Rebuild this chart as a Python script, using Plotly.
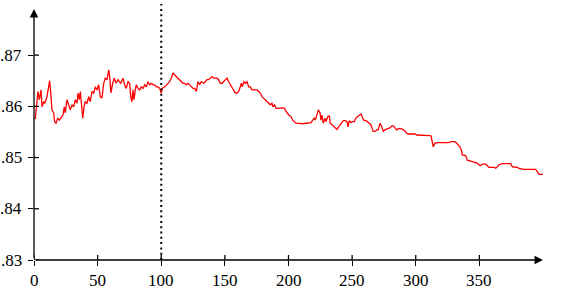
import plotly.graph_objects as go

# ---- data ----
x_vals = [
    1, 2.4, 3.1, 4.2, 5.5, 6.3, 7.6, 8.5, 10.2, 11.5, 12.3, 13.4, 14.1, 15.5, 16.2, 17.3, 18.6, 19.9,
    21.5, 22.8, 23.8, 24.6, 25.9, 27.2, 28.5, 29.9, 31.2, 32.5, 33.8, 34.6, 35.6, 36.4, 37.7, 38.3,
    39.3, 40.3, 41.6, 43.0, 44.2, 45.6, 46.9, 48.2, 49.5, 50.8, 52.1, 53.4, 54.8, 56.0, 57.4, 58.7,
    59.5, 60.5, 61.8, 63.1, 64.4, 66.0, 68.1, 69.9, 71.2, 72.5, 73.9, 75.2, 76.0, 77.0, 77.8, 78.6,
    79.6, 80.4, 81.7, 83.0, 84.3, 85.7, 87.0, 88.3, 89.6, 90.9, 92.2, 93.5, 94.8, 96.1, 97.4, 98.8,
    100.0, 100.8, 102.7, 104.0, 105.3, 106.6, 107.9, 109.2, 110.6, 111.8, 113.2, 114.5, 115.8, 117.1,
    118.4, 119.7, 121.0, 122.4, 123.6, 125.0, 126.3, 127.5, 128.9, 130.2, 131.5, 133.3, 134.6, 136.0,
    137.3, 138.5, 139.9, 141.2, 142.5, 143.8, 145.1, 146.4, 147.7, 149.1, 150.3, 151.7, 153.0, 154.3,
    155.6, 156.9, 158.2, 159.5, 160.9, 162.1, 162.9, 163.7, 164.8, 166.1, 167.4, 168.7, 170.0, 171.3,
    172.6, 173.9, 175.3, 176.6, 177.8, 179.2, 180.5, 181.8, 183.1, 184.4, 185.7, 187.0, 187.8, 189.1,
    190.2, 192.3, 194.9, 197.0, 198.0, 199.6, 200.2, 202.0, 203.3, 205.9, 208.5, 211.2, 213.8, 216.3,
    217.7, 219.0, 220.3, 221.1, 222.2, 223.4, 224.8, 225.5, 226.3, 227.3, 228.7, 229.5, 230.8, 232.1,
    232.8, 234.2, 235.5, 236.8, 238.1, 239.4, 240.7, 242.1, 243.1, 244.6, 246.0, 246.8, 247.8, 249.1,
    250.4, 251.7, 253.0, 254.4, 255.6, 257.0, 257.8, 259.1, 260.9, 262.2, 263.5, 264.8, 266.6, 268.0,
    269.3, 270.6, 271.9, 273.2, 274.5, 275.8, 277.2, 278.4, 279.8, 281.1, 282.4, 283.8, 285.0, 286.3,
    287.6, 289.0, 290.2, 291.6, 292.9, 294.2, 296.8, 299.4, 300.7, 303.3, 305.9, 308.6, 311.2, 312.0,
    313.0, 313.8, 315.1, 317.7, 321.6, 325.6, 328.2, 330.8, 332.2, 334.7, 335.8, 336.6, 339.2, 340.5,
    343.2, 345.8, 348.4, 350.5, 352.3, 355.0, 356.2, 357.6, 361.5, 362.8, 364.1, 365.4, 368.0, 374.6,
    375.9, 379.8, 381.1, 385.1, 394.3, 395.5, 396.9, 400.0,
]
y_vals = [
    0.8575, 0.8606, 0.8629, 0.8613, 0.8632, 0.8599, 0.8609, 0.8606, 0.8619, 0.8638, 0.8650, 0.8619,
    0.8593, 0.8587, 0.8570, 0.8567, 0.8577, 0.8573, 0.8580, 0.8583, 0.8599, 0.8587, 0.8613, 0.8603,
    0.8593, 0.8603, 0.8599, 0.8613, 0.8606, 0.8626, 0.8613, 0.8629, 0.8599, 0.8577, 0.8599, 0.8609,
    0.8606, 0.8619, 0.8609, 0.8629, 0.8626, 0.8638, 0.8632, 0.8642, 0.8619, 0.8616, 0.8645, 0.8655,
    0.8652, 0.8671, 0.8658, 0.8626, 0.8645, 0.8655, 0.8645, 0.8652, 0.8645, 0.8655, 0.8642, 0.8635,
    0.8648, 0.8645, 0.8619, 0.8609, 0.8632, 0.8613, 0.8632, 0.8642, 0.8635, 0.8632, 0.8638, 0.8635,
    0.8642, 0.8638, 0.8648, 0.8642, 0.8645, 0.8642, 0.8642, 0.8638, 0.8638, 0.8635, 0.8626, 0.8635,
    0.8638, 0.8642, 0.8645, 0.8648, 0.8655, 0.8665, 0.8661, 0.8658, 0.8655, 0.8652, 0.8648, 0.8645,
    0.8645, 0.8642, 0.8645, 0.8642, 0.8638, 0.8635, 0.8635, 0.8629, 0.8648, 0.8642, 0.8648, 0.8645,
    0.8648, 0.8652, 0.8652, 0.8655, 0.8658, 0.8655, 0.8655, 0.8655, 0.8652, 0.8645, 0.8645, 0.8648,
    0.8652, 0.8655, 0.8648, 0.8642, 0.8635, 0.8629, 0.8626, 0.8626, 0.8629, 0.8638, 0.8645, 0.8638,
    0.8648, 0.8645, 0.8648, 0.8638, 0.8638, 0.8632, 0.8632, 0.8632, 0.8632, 0.8629, 0.8626, 0.8619,
    0.8616, 0.8613, 0.8609, 0.8606, 0.8603, 0.8606, 0.8599, 0.8603, 0.8596, 0.8596, 0.8597, 0.8596,
    0.8590, 0.8585, 0.8583, 0.8580, 0.8573, 0.8567, 0.8566, 0.8566, 0.8567, 0.8567, 0.8568, 0.8573,
    0.8577, 0.8573, 0.8583, 0.8593, 0.8587, 0.8573, 0.8583, 0.8567, 0.8577, 0.8570, 0.8580, 0.8581,
    0.8567, 0.8564, 0.8560, 0.8557, 0.8555, 0.8560, 0.8564, 0.8567, 0.8572, 0.8572, 0.8570, 0.8560,
    0.8572, 0.8568, 0.8570, 0.8570, 0.8577, 0.8580, 0.8583, 0.8585, 0.8580, 0.8573, 0.8572, 0.8570,
    0.8567, 0.8564, 0.8551, 0.8551, 0.8554, 0.8554, 0.8567, 0.8561, 0.8551, 0.8554, 0.8556, 0.8557,
    0.8558, 0.8562, 0.8562, 0.8558, 0.8554, 0.8556, 0.8557, 0.8556, 0.8554, 0.8552, 0.8547, 0.8546,
    0.8546, 0.8546, 0.8544, 0.8544, 0.8543, 0.8543, 0.8543, 0.8542, 0.8525, 0.8521, 0.8528, 0.8529,
    0.8529, 0.8529, 0.8531, 0.8531, 0.8528, 0.8521, 0.8515, 0.8505, 0.8504, 0.8495, 0.8493, 0.8491,
    0.8489, 0.8484, 0.8487, 0.8487, 0.8484, 0.8481, 0.8481, 0.8479, 0.8482, 0.8486, 0.8488, 0.8488,
    0.8482, 0.8481, 0.8479, 0.8477, 0.8477, 0.8471, 0.8467, 0.8467,
]
x_ticks = [0, 50, 100, 150, 200, 250, 300, 350]
x_tick_labels = ["0", "50", "100", "150", "200", "250", "300", "350"]
y_ticks = [0.83, 0.84, 0.85, 0.86, 0.87]
y_tick_labels = [".83", ".84", ".85", ".86", ".87"]
marker_x = 100
x_range = [0, 400]
y_range = [0.83, 0.879]

FONT = dict(family="Liberation Serif", size=17, color="black")
AX_W = 1.3

fig = go.Figure()
fig.add_trace(go.Scatter(x=x_vals, y=y_vals, mode="lines",
                         line=dict(color="#ff0000", width=1.3), showlegend=False,
                         hoverinfo="skip"))

# dotted vertical marker
fig.add_shape(type="line", xref="x", yref="paper", x0=marker_x, x1=marker_x, y0=0, y1=1.02,
              line=dict(color="black", width=2, dash="2px,3.3px"))

# inner halves of the crossing tick marks
for tv in x_ticks:
    fig.add_shape(type="line", xref="x", yref="y", ysizemode="pixel", yanchor=y_range[0],
                  x0=tv, x1=tv, y0=0, y1=5, line=dict(color="black", width=AX_W))
for tv in y_ticks:
    fig.add_shape(type="line", xref="x", yref="y", xsizemode="pixel", xanchor=x_range[0],
                  x0=0, x1=5, y0=tv, y1=tv, line=dict(color="black", width=AX_W))

# tick labels (serif) as annotations anchored at the tick values
for tv, lab in zip(x_ticks, x_tick_labels):
    fig.add_annotation(x=tv, y=y_range[0], xref="x", yref="y", text=lab, showarrow=False,
                       xanchor="center", yanchor="top", yshift=-9, font=FONT)
for tv, lab in zip(y_ticks, y_tick_labels):
    fig.add_annotation(x=x_range[0], y=tv, xref="x", yref="y", text=lab, showarrow=False,
                       xanchor="right", yanchor="middle", xshift=-10, font=FONT)

# axis lines with arrowheads
fig.add_annotation(x=x_range[1], y=y_range[0], ax=x_range[0], ay=y_range[0],
                   xref="x", yref="y", axref="x", ayref="y", text="", showarrow=True,
                   arrowhead=2, arrowsize=1.3, arrowwidth=AX_W, arrowcolor="black", standoff=0)
fig.add_annotation(x=x_range[0], y=y_range[1], ax=x_range[0], ay=y_range[0],
                   xref="x", yref="y", axref="x", ayref="y", text="", showarrow=True,
                   arrowhead=2, arrowsize=1.3, arrowwidth=AX_W, arrowcolor="black", standoff=0)

fig.update_layout(
    width=561, height=290,
    margin=dict(l=34, r=18, t=9, b=30, pad=0),
    paper_bgcolor="white", plot_bgcolor="white",
    template="none",
    font=FONT,
    xaxis=dict(range=x_range, tickvals=x_ticks, ticks="outside", showticklabels=False,
               ticklen=5, tickwidth=AX_W, tickcolor="black", showline=False, showgrid=False,
               zeroline=False, automargin=False),
    yaxis=dict(range=y_range, tickvals=y_ticks, ticks="outside", showticklabels=False,
               ticklen=5, tickwidth=AX_W, tickcolor="black", showline=False, showgrid=False,
               zeroline=False, automargin=False),
)

fig.write_html("out.html", config={"displayModeBar": False})
